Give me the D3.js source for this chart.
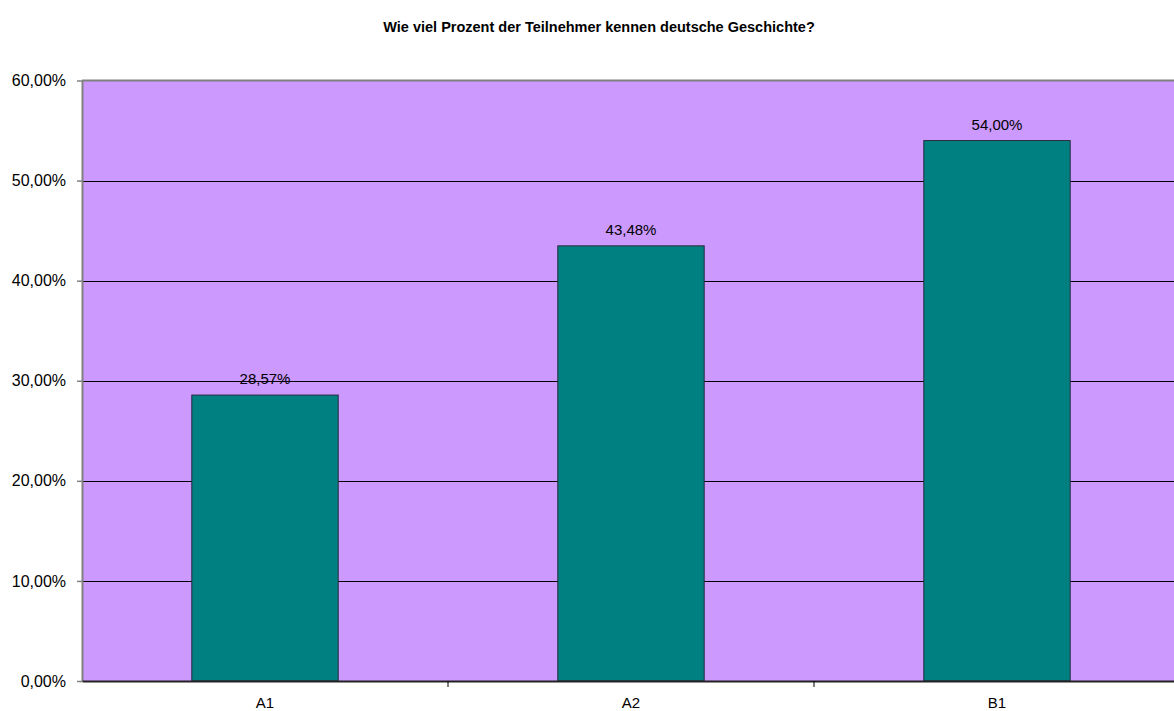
<!DOCTYPE html>
<html>
<head>
<meta charset="utf-8">
<script src="https://cdn.jsdelivr.net/npm/d3@7"></script>
<style>
  body { margin: 0; background: #fff; }
  svg text { font-family: "Liberation Sans", Arial, sans-serif; fill: #000; }
</style>
</head>
<body>
<svg id="chart" width="1174" height="711"></svg>
<script>
const categories = ["A1", "A2", "B1"];
const values = [28.57, 43.48, 54.00];
const yTicks = [0, 10, 20, 30, 40, 50, 60];
const title = "Wie viel Prozent der Teilnehmer kennen deutsche Geschichte?";

const fmt = v => v.toFixed(2).replace(".", ",") + "%";

const svg = d3.select("#chart");
const plotLeft = 82, plotRight = 1180, plotTop = 80.5, plotBottom = 681;

const x = d3.scaleBand().domain(categories).range([plotLeft, plotRight]).padding(0);
const y = d3.scaleLinear().domain([0, 60]).range([plotBottom, plotTop]);

// plot background
svg.append("rect")
  .attr("x", plotLeft).attr("y", plotTop)
  .attr("width", plotRight - plotLeft).attr("height", plotBottom - plotTop)
  .attr("fill", "#cc99ff");

// grid lines
svg.selectAll(".grid")
  .data(yTicks.filter(t => t > 0 && t < 60))
  .enter().append("line")
  .attr("x1", plotLeft).attr("x2", plotRight)
  .attr("y1", d => Math.round(y(d)) + 0.5).attr("y2", d => Math.round(y(d)) + 0.5)
  .attr("stroke", "#000").attr("stroke-width", 1);

// top border
svg.append("line")
  .attr("x1", plotLeft).attr("x2", plotRight)
  .attr("y1", plotTop).attr("y2", plotTop)
  .attr("stroke", "#808080").attr("stroke-width", 2);

// bars
const barW = x.bandwidth() * 0.4;
svg.selectAll(".bar")
  .data(values)
  .enter().append("rect")
  .attr("class", "bar")
  .attr("x", (d, i) => x(categories[i]) + (x.bandwidth() - barW) / 2)
  .attr("y", d => y(d))
  .attr("width", barW)
  .attr("height", d => plotBottom - y(d))
  .attr("fill", "#008080")
  .attr("stroke", "#2a2a40").attr("stroke-width", 1);

// value labels
svg.selectAll(".bar-label")
  .data(values)
  .enter().append("text")
  .attr("x", (d, i) => x(categories[i]) + x.bandwidth() / 2)
  .attr("y", d => y(d) - 11)
  .attr("text-anchor", "middle")
  .style("font-size", "15px")
  .text(d => fmt(d));

// y axis
const yAxis = svg.append("g")
  .attr("transform", `translate(${plotLeft},0)`)
  .call(d3.axisLeft(y).tickValues(yTicks).tickSize(5).tickSizeOuter(0).tickFormat(d => fmt(d)));
yAxis.select(".domain").attr("stroke", "#808080").attr("stroke-width", 2);
yAxis.selectAll(".tick line").attr("stroke", "#808080").attr("stroke-width", 1.5);
yAxis.selectAll("text")
  .attr("x", -16)
  .style("font-size", "16px")
  .style("font-family", "'Liberation Sans', Arial, sans-serif");

// x axis
const xAxis = svg.append("g")
  .attr("transform", `translate(0,${plotBottom})`)
  .call(d3.axisBottom(x).tickSize(0).tickSizeOuter(0));
xAxis.select(".domain").attr("stroke", "#222").attr("stroke-width", 2);
xAxis.selectAll("text")
  .attr("dy", "0")
  .attr("y", 27)
  .style("font-size", "15px")
  .style("font-family", "'Liberation Sans', Arial, sans-serif");

// category separator ticks
svg.selectAll(".xtick")
  .data(categories.slice(1))
  .enter().append("line")
  .attr("x1", d => x(d)).attr("x2", d => x(d))
  .attr("y1", plotBottom).attr("y2", plotBottom + 6)
  .attr("stroke", "#000").attr("stroke-width", 1);

// title
svg.append("text")
  .attr("x", 599).attr("y", 32)
  .attr("text-anchor", "middle")
  .style("font-size", "14.5px")
  .style("font-weight", "bold")
  .text(title);
</script>
</body>
</html>
